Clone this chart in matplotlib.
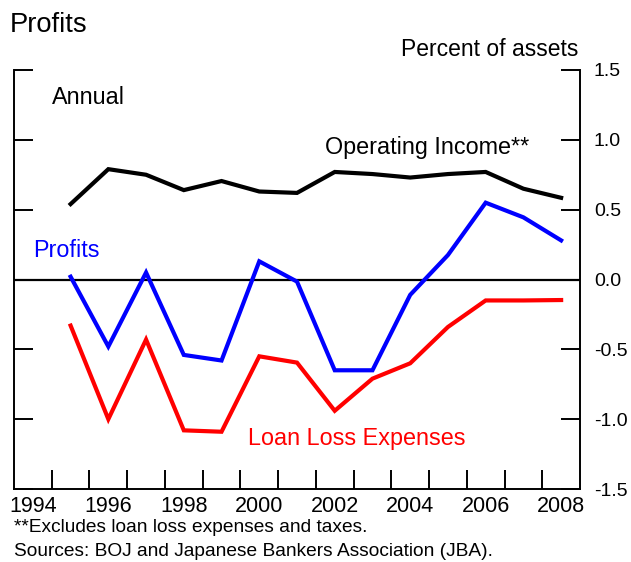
import matplotlib
matplotlib.use("Agg")
from matplotlib import pyplot as plt
from matplotlib.ticker import FixedLocator, NullFormatter

plt.rcParams['font.family'] = ['Liberation Sans', 'DejaVu Sans']

# Japanese banks, percent of assets
years = list(range(1995, 2009))
operating_income = [0.54, 0.79, 0.75, 0.64, 0.705, 0.63, 0.62, 0.77, 0.755, 0.73,
                    0.755, 0.77, 0.65, 0.585]
profits = [0.02, -0.48, 0.05, -0.54, -0.58, 0.13, -0.015, -0.65, -0.65, -0.11,
           0.175, 0.55, 0.445, 0.28]
loan_loss = [-0.33, -1.0, -0.43, -1.08, -1.09, -0.55, -0.595, -0.94, -0.71, -0.60,
             -0.34, -0.15, -0.15, -0.147]

year_labels = [1994, 1996, 1998, 2000, 2002, 2004, 2006, 2008]
y_ticks = [-1.5, -1.0, -0.5, 0.0, 0.5, 1.0, 1.5]

W, H = 631, 562
fig = plt.figure(figsize=(W / 100, H / 100), dpi=100)
ax = fig.add_axes([14 / W, 1 - 489 / H, (580 - 14) / W, (489 - 70) / H])

ax.axhline(0, color='black', lw=1.6, zorder=1)
ax.plot(years, operating_income, color='black', lw=3.0, solid_joinstyle='miter')
ax.plot(years, profits, color='#0000ff', lw=3.0, solid_joinstyle='miter')
ax.plot(years, loan_loss, color='#ff0000', lw=3.0, solid_joinstyle='miter')

ax.set_xlim(1993.5, 2008.5)
ax.set_ylim(-1.5, 1.5)

# year labels centred on the years, tick marks between them
ax.xaxis.set_major_locator(FixedLocator(year_labels))
ax.xaxis.set_minor_locator(FixedLocator([y + 0.5 for y in range(1994, 2008)]))
ax.tick_params(axis='x', which='major', length=0, pad=5, labelsize=15.5)
ax.tick_params(axis='x', which='minor', direction='in', length=14, width=1.4)

ax.set_yticks(y_ticks)
ax.set_yticklabels(['-1.5', '-1.0', '-0.5', '0.0', '0.5', '1.0', '1.5'])
ax.yaxis.set_minor_formatter(NullFormatter())
ax.tick_params(axis='y', direction='in', length=14, width=1.4, left=True, right=True,
               labelleft=False, labelright=True, pad=10, labelsize=14)

ax.spines['top'].set_visible(False)
for s in ['left', 'right', 'bottom']:
    ax.spines[s].set_linewidth(1.4)

ax.text(1994.51, 1.306, 'Annual', fontsize=16.8, va='center', ha='left')
ax.text(2001.73, 0.948, 'Operating Income**', fontsize=16.8, va='center', ha='left')
ax.text(1994.0, 0.21, 'Profits', fontsize=16.8, color='#0000ff', va='center', ha='left')
ax.text(1999.69, -1.135, 'Loan Loss Expenses', fontsize=16.8, color='#ff0000',
        va='center', ha='left')

fig.text(10 / W, 1 - 25 / H, 'Profits', fontsize=19.7, va='center', ha='left')
fig.text(578 / W, 1 - 50 / H, 'Percent of assets', fontsize=16.5, va='center', ha='right')
fig.text(14 / W, 1 - 528 / H, '**Excludes loan loss expenses and taxes.', fontsize=13.8,
         va='center', ha='left')
fig.text(14 / W, 1 - 551 / H, 'Sources: BOJ and Japanese Bankers Association (JBA).',
         fontsize=13.8, va='center', ha='left')

fig.savefig('out.png', dpi=100)
